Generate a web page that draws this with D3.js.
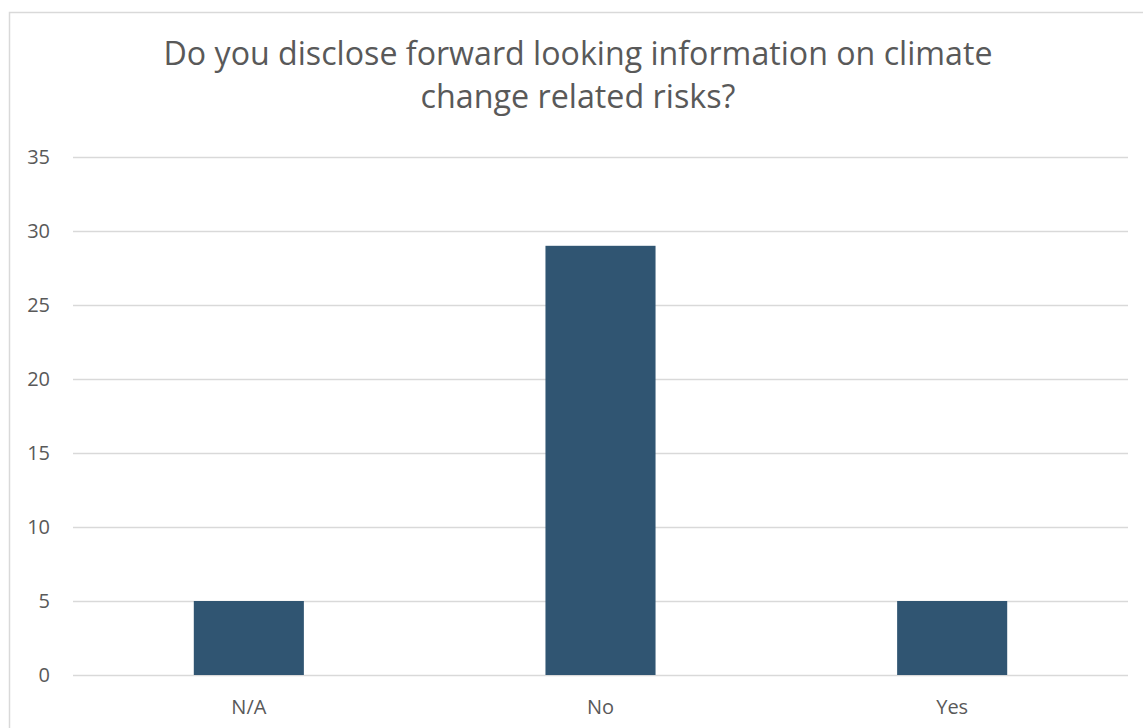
<!DOCTYPE html>
<html>
<head>
<meta charset="utf-8">
<script src="https://cdn.jsdelivr.net/npm/d3@7"></script>
<style>
    body { margin: 0; background: #fff; }
    text { font-family: "Open Sans", sans-serif; fill: #595959; }
</style>
</head>
<body>
<div id="bar-chart"></div>
<script>
const categories = ["N/A", "No", "Yes"];
const answers = [5, 29, 5];
const yTicks = [0, 5, 10, 15, 20, 25, 30, 35];
const titleLines = ["Do you disclose forward looking information on climate", "change related risks?"];

const W = 1143, H = 728;
const margin = { top: 157, right: 15, bottom: 53, left: 73 };
const width = W - margin.left - margin.right;
const height = H - margin.top - margin.bottom;

const svg = d3.select("#bar-chart")
    .append("svg")
    .attr("width", W)
    .attr("height", H);

// chart border (runs off the right and bottom edges)
svg.append("rect")
    .attr("x", 9.5)
    .attr("y", 12.5)
    .attr("width", 1160)
    .attr("height", 760)
    .attr("fill", "none")
    .attr("stroke", "#d9d9d9")
    .attr("stroke-width", 1.5);

// title
svg.append("g")
    .selectAll("text")
    .data(titleLines)
    .enter()
    .append("text")
    .attr("x", 578)
    .attr("y", (d, i) => 65 + i * 43)
    .attr("text-anchor", "middle")
    .attr("font-size", "32px")
    .attr("textLength", (d, i) => i === 0 ? 829 : 315)
    .attr("lengthAdjust", "spacingAndGlyphs")
    .text(d => d);

const g = svg.append("g")
    .attr("transform", "translate(" + margin.left + "," + margin.top + ")");

const x = d3.scaleBand()
    .domain(categories)
    .range([0, width])
    .paddingInner(0.687)
    .paddingOuter(0.687 / 2);

const y = d3.scaleLinear()
    .domain([0, 35])
    .range([height, 0]);

// gridlines + y labels
const yAxis = g.append("g")
    .attr("class", "yaxis")
    .call(d3.axisLeft(y).tickValues(yTicks).tickSize(-width).tickPadding(23));
yAxis.select(".domain").remove();
yAxis.selectAll(".tick line")
    .attr("stroke", "#d9d9d9")
    .attr("stroke-width", 1.5);
yAxis.selectAll(".tick text")
    .attr("font-size", "20px")
    .attr("font-family", "Open Sans")
    .attr("fill", "#595959");

// bars
g.selectAll(".bar")
    .data(answers)
    .enter()
    .append("rect")
    .attr("class", "bar")
    .attr("x", (d, i) => x(categories[i]))
    .attr("y", d => y(d))
    .attr("width", x.bandwidth())
    .attr("height", d => height - y(d))
    .attr("fill", "#305572");

// x labels
const xAxis = g.append("g")
    .attr("transform", "translate(0," + height + ")")
    .call(d3.axisBottom(x).tickSize(0).tickPadding(25));
xAxis.select(".domain").remove();
xAxis.selectAll(".tick text")
    .attr("font-size", "20px")
    .attr("font-family", "Open Sans")
    .attr("fill", "#595959");
</script>
</body>
</html>
